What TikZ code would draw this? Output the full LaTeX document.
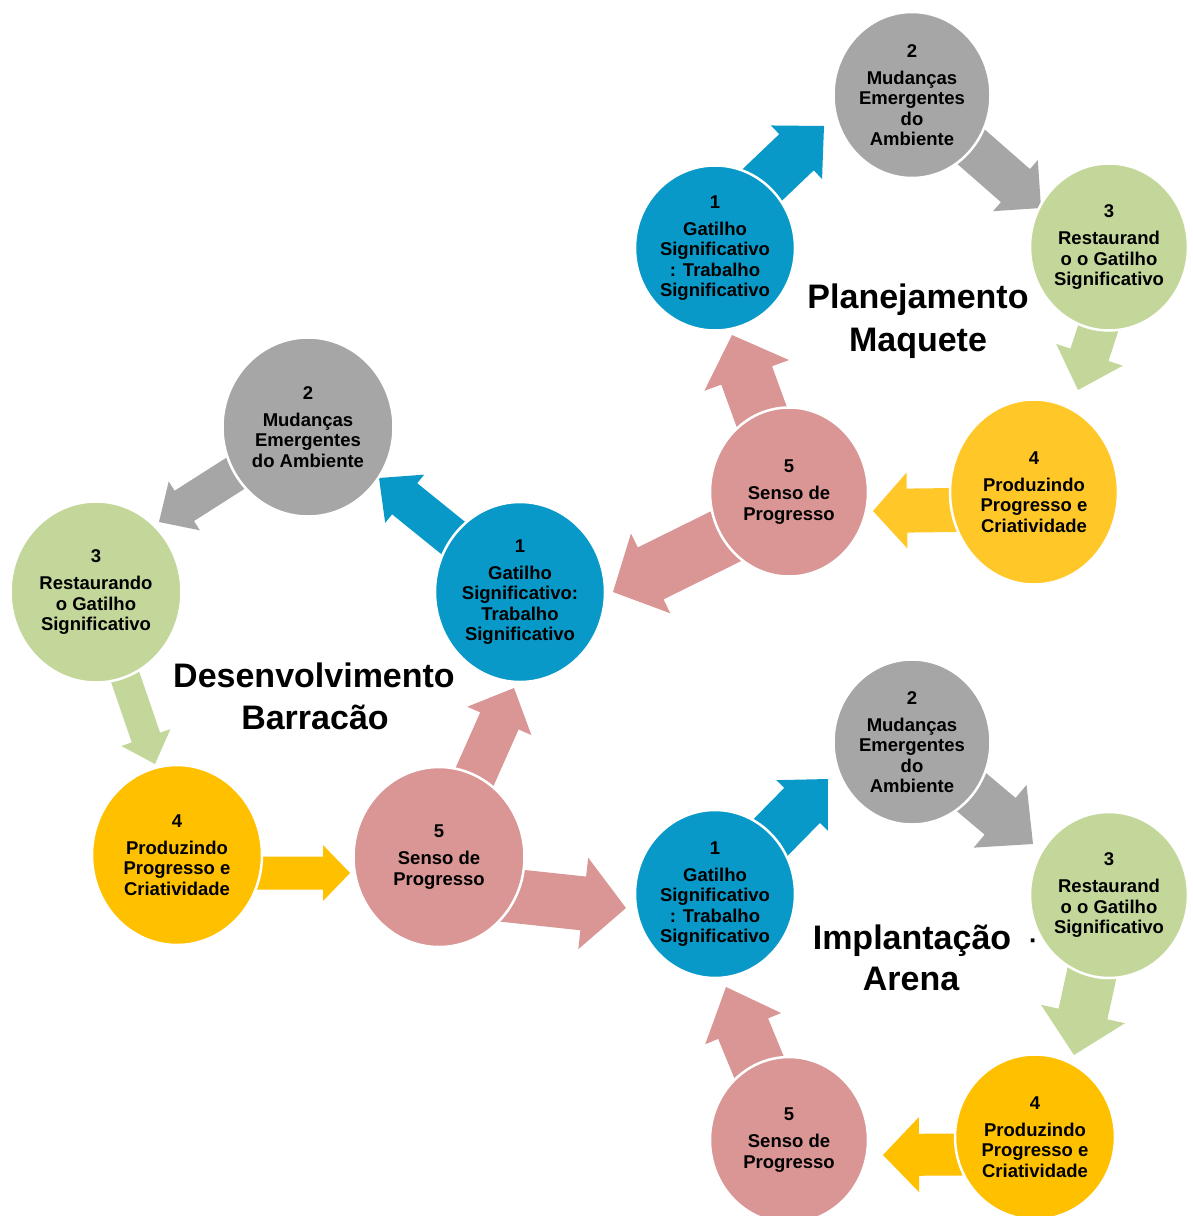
\documentclass[tikz,border=0pt]{standalone}
\usepackage{fontspec}
\setmainfont{Liberation Sans}
\usetikzlibrary{calc,shapes.geometric}

\definecolor{cblue}{HTML}{0899C9}
\definecolor{cgray}{HTML}{A6A6A6}
\definecolor{cgreen}{HTML}{C4D79B}
\definecolor{cyellow}{HTML}{FFC000}
\definecolor{cyellowlt}{HTML}{FFC828}
\definecolor{cpink}{HTML}{D99694}

\pgfdeclarelayer{back}
\pgfsetlayers{back,main}

\tikzset{
  bubble/.style={ellipse, inner sep=0pt, draw=white, line width=2.5pt},
  btext/.style={align=center, inner sep=0pt, font=\fontsize{18.5}{20.5}\selectfont\bfseries},
  ttl/.style={anchor=base, inner sep=0pt, font=\fontsize{34}{40}\selectfont\bfseries},
}

% block arrow: colour, from, to, shaft half-width, head half-width, head length
\newcommand\blockarrow[6]{%
  \coordinate (ba-s) at (#2);
  \coordinate (ba-t) at (#3);
  \coordinate (ba-h) at ($(ba-t)!#6pt!(ba-s)$);
  \fill[#1] ($(ba-s)!#4pt!90:(ba-t)$) -- ($(ba-h)!#4pt!90:(ba-t)$)
    -- ($(ba-h)!#5pt!90:(ba-t)$) -- (ba-t) -- ($(ba-h)!#5pt!-90:(ba-t)$)
    -- ($(ba-h)!#4pt!-90:(ba-t)$) -- ($(ba-s)!#4pt!-90:(ba-t)$) -- cycle;
}

\begin{document}
\begin{tikzpicture}[x=1pt,y=-1pt]
\clip (0,0) rectangle (1192,1216);

% ---- cycle "Desenvolvimento Barracão"
\node[bubble, fill=cblue,   minimum width=170pt, minimum height=180pt] (A1) at (520,592) {};
\node[bubble, fill=cgray,   minimum width=171pt, minimum height=179pt] (A2) at (308,427) {};
\node[bubble, fill=cgreen,  minimum width=171pt, minimum height=181pt] (A3) at (96,592) {};
\node[bubble, fill=cyellow, minimum width=170pt, minimum height=180pt] (A4) at (177,855) {};
\node[bubble, fill=cpink,   minimum width=171pt, minimum height=180pt] (A5) at (439,857) {};

% ---- cycle "Planejamento Maquete"
\node[bubble, fill=cblue,     minimum width=160pt, minimum height=165pt] (B1) at (715,248) {};
\node[bubble, fill=cgray,     minimum width=157pt, minimum height=166pt] (B2) at (912,95) {};
\node[bubble, fill=cgreen,    minimum width=158pt, minimum height=167pt] (B3) at (1109,247) {};
\node[bubble, fill=cyellowlt, minimum width=168pt, minimum height=185pt] (B4) at (1034,492) {};
\node[bubble, fill=cpink,     minimum width=158pt, minimum height=169pt] (B5) at (789,492) {};

% ---- cycle "Implantação Arena"
\node[bubble, fill=cblue,   minimum width=160pt, minimum height=168pt] (C1) at (715,894) {};
\node[bubble, fill=cgray,   minimum width=157pt, minimum height=165pt] (C2) at (912,742) {};
\node[bubble, fill=cgreen,  minimum width=158pt, minimum height=166pt] (C3) at (1109,895) {};
\node[bubble, fill=cyellow, minimum width=160pt, minimum height=165pt] (C4) at (1035,1137) {};
\node[bubble, fill=cpink,   minimum width=158pt, minimum height=166pt] (C5) at (789,1140) {};

% arrow tips
\coordinate (tA12) at (379,478);
\coordinate (tA23) at (159,522);
\coordinate (tA34) at (155,764);
\coordinate (tA45) at (350,873);
\coordinate (tA51) at (514,688);
\coordinate (tA5C) at (626,908);
\coordinate (tB5A) at (613,592);
\coordinate (tB12) at (824,126);
\coordinate (tB23) at (1041,208);
\coordinate (tB34) at (1078,390);
\coordinate (tB45) at (873,511);
\coordinate (tB51) at (732,335);
\coordinate (tC12) at (828,779);
\coordinate (tC23) at (1033,844);
\coordinate (tC34) at (1074,1055);
\coordinate (tC45) at (883,1155);
\coordinate (tC51) at (726,987);

\begin{pgfonlayer}{back}
  \fill[white] (0,0) rectangle (1192,1216);
  % titles
  \node[ttl] (T1a) at (314,687) {Desenvolvimento};
  \node[ttl] (T1b) at (315,729) {Barracão};
  \node[ttl] (T2a) at (918,308) {Planejamento};
  \node[ttl] (T2b) at (918,351) {Maquete};
  \node[ttl] (T3a) at (912,949) {Implantação\rlap{\hspace{18pt}\fontsize{26}{30}\selectfont·}};
  \node[ttl] (T3b) at (911,990) {Arena};
  % arrows
  \blockarrow{cblue}{A1.center}{tA12}{20}{31}{33}
  \blockarrow{cgray}{A2.center}{tA23}{18}{29}{30}
  \blockarrow{cgreen}{A3.center}{tA34}{15}{26}{28}
  \blockarrow{cyellow}{$(A4.center)+(0,18)$}{tA45}{16.5}{28}{27}
  \blockarrow{cpink}{A5.center}{tA51}{21}{35}{36}
  \blockarrow{cpink}{$(A5.center)+(38,35)$}{tA5C}{27}{46}{43}
  \blockarrow{cpink}{$(B5.center)+(-10,18)$}{tB5A}{29}{44.5}{42}
  \blockarrow{cblue}{$(B1.center)+(0,-18)$}{tB12}{25}{37}{38}
  \blockarrow{cgray}{B2.center}{tB23}{22}{34}{34}
  \blockarrow{cgreen}{$(B3.center)+(15,2)$}{tB34}{20}{35}{37}
  \blockarrow{cyellowlt}{$(B4.center)+(0,17)$}{tB45}{22}{38}{34}
  \blockarrow{cpink}{B5.center}{tB51}{27}{45}{43}
  \blockarrow{cblue}{C1.center}{tC12}{25}{36}{37}
  \blockarrow{cgray}{C2.center}{tC23}{24}{41}{43}
  \blockarrow{cgreen}{C3.center}{tC34}{25}{43}{42}
  \blockarrow{cyellow}{$(C4.center)+(0,17)$}{tC45}{21}{37.5}{36}
  \blockarrow{cpink}{C5.center}{tC51}{27}{41}{45}
\end{pgfonlayer}

% bubble labels
\node[btext] at (A1.center) {1\\[6.5pt]Gatilho\\Significativo:\\Trabalho\\Significativo};
\node[btext] at (A2.center) {2\\[6.5pt]Mudanças\\Emergentes\\do Ambiente};
\node[btext] at (A3.center) {3\\[6.5pt]Restaurando\\o Gatilho\\Significativo};
\node[btext] at (A4.center) {4\\[6.5pt]Produzindo\\Progresso e\\Criatividade};
\node[btext] at (A5.center) {5\\[6.5pt]Senso de\\Progresso};

\node[btext] at (B1.center) {1\\[6.5pt]Gatilho\\Significativo\\: Trabalho\\Significativo};
\node[btext] at (B2.center) {2\\[6.5pt]Mudanças\\Emergentes\\do\\Ambiente};
\node[btext] at (B3.center) {3\\[6.5pt]Restaurand\\o o Gatilho\\Significativo};
\node[btext] at (B4.center) {4\\[6.5pt]Produzindo\\Progresso e\\Criatividade};
\node[btext] at (B5.center) {5\\[6.5pt]Senso de\\Progresso};

\node[btext] at (C1.center) {1\\[6.5pt]Gatilho\\Significativo\\: Trabalho\\Significativo};
\node[btext] at (C2.center) {2\\[6.5pt]Mudanças\\Emergentes\\do\\Ambiente};
\node[btext] at (C3.center) {3\\[6.5pt]Restaurand\\o o Gatilho\\Significativo};
\node[btext] at (C4.center) {4\\[6.5pt]Produzindo\\Progresso e\\Criatividade};
\node[btext] at (C5.center) {5\\[6.5pt]Senso de\\Progresso};
\end{tikzpicture}
\end{document}
